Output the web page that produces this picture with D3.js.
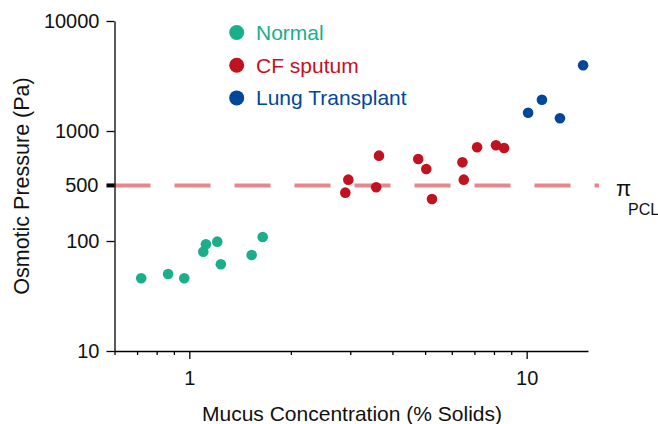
<!DOCTYPE html>
<html>
<head>
<meta charset="utf-8">
<script src="https://cdn.jsdelivr.net/npm/d3@7"></script>
<style>
  html, body { margin: 0; padding: 0; background: #fff; }
  svg { display: block; }
  text { font-family: "Liberation Sans", Arial, Helvetica, sans-serif; }
</style>
</head>
<body>
<svg id="chart" width="658" height="424"></svg>
<script>
// ---- data ----
const seriesNames = ["Normal", "CF sputum", "Lung Transplant"];
const seriesColors = ["#1aae8b", "#c1121f", "#00479b"];

const normalX = [0.72, 0.865, 0.966, 1.10, 1.12, 1.21, 1.24, 1.53, 1.65];
const normalY = [45.8, 50.1, 45.8, 80.0, 93.3, 98.6, 61.4, 74.6, 108.7];

const cfX = [2.90, 2.96, 3.58, 3.65, 4.77, 5.04, 5.24, 6.45, 6.51, 7.13, 8.11, 8.57];
const cfY = [275, 361, 308, 597, 557, 451, 241, 519, 361, 711, 741, 701];

const ltX = [10.1, 11.1, 12.55, 14.7];
const ltY = [1467, 1925, 1305, 3955];

const yTickValues = [10, 100, 1000, 10000];
const yTickLabels = ["10", "100", "1000", "10000"];
const xMajorTicks = [1, 10];
const xMajorLabels = ["1", "10"];
const xMinorTicks = [0.6, 0.7, 0.8, 0.9, 2, 3, 4, 5, 6, 7, 8, 9];

// pi_PCL reference line, drawn where the figure draws it, labelled "500"
const pclLineValue = 320;
const pclLabel = "500";

const xTitle = "Mucus Concentration (% Solids)";
const yTitle = "Osmotic Pressure (Pa)";

// ---- chart ----
const svg = d3.select("#chart");
const x = d3.scaleLog().domain([0.6, 15.2]).range([114.5, 588]);
const y = d3.scaleLog().domain([10, 10000]).range([351, 21]);

// reference dashed line
svg.append("line")
  .attr("x1", x(0.6)).attr("x2", 599)
  .attr("y1", y(pclLineValue)).attr("y2", y(pclLineValue))
  .attr("stroke", "#e5878d")
  .attr("stroke-width", 4)
  .attr("stroke-dasharray", "36 24");

// Y axis
const yAxis = d3.axisLeft(y)
  .tickValues(yTickValues)
  .tickFormat((d, i) => yTickLabels[i])
  .tickSize(8).tickPadding(7).tickSizeOuter(0);
const gy = svg.append("g").attr("transform", `translate(${x(0.6)},0)`).call(yAxis);
gy.select(".domain").attr("stroke", "#000").attr("stroke-width", 1.3);
gy.selectAll(".tick line").attr("stroke", "#000").attr("stroke-width", 1.3);
gy.selectAll("text").attr("font-size", 20).attr("fill", "#111")
  .attr("font-family", "'Liberation Sans', Arial, sans-serif");

// 500 tick (thick)
svg.append("line")
  .attr("x1", x(0.6) - 8).attr("x2", x(0.6))
  .attr("y1", y(pclLineValue)).attr("y2", y(pclLineValue))
  .attr("stroke", "#000").attr("stroke-width", 4);
svg.append("text")
  .attr("x", x(0.6) - 16).attr("y", y(pclLineValue))
  .attr("dy", "0.35em")
  .attr("text-anchor", "end")
  .attr("font-size", 20).attr("fill", "#111")
  .text(pclLabel);

// X axis
const xAxis = d3.axisBottom(x)
  .tickValues(xMajorTicks)
  .tickFormat((d, i) => xMajorLabels[i])
  .tickSize(8).tickPadding(12).tickSizeOuter(0);
const gx = svg.append("g").attr("transform", `translate(0,${y(10)})`).call(xAxis);
gx.select(".domain").attr("stroke", "#000").attr("stroke-width", 1.3);
gx.selectAll(".tick line").attr("stroke", "#000").attr("stroke-width", 1.3);
gx.selectAll("text").attr("font-size", 20).attr("fill", "#111")
  .attr("font-family", "'Liberation Sans', Arial, sans-serif");

const xMinor = d3.axisBottom(x).tickValues(xMinorTicks).tickFormat("").tickSize(4).tickSizeOuter(0);
const gxm = svg.append("g").attr("transform", `translate(0,${y(10)})`).call(xMinor);
gxm.select(".domain").remove();
gxm.selectAll(".tick line").attr("stroke", "#000").attr("stroke-width", 1.3);

// Axis titles
svg.append("text")
  .attr("x", 352).attr("y", 421)
  .attr("text-anchor", "middle")
  .attr("font-size", 21).attr("fill", "#111")
  .text(xTitle);
svg.append("text")
  .attr("transform", `translate(29, ${186}) rotate(-90)`)
  .attr("text-anchor", "middle")
  .attr("font-size", 21.5).attr("fill", "#111")
  .text(yTitle);

// Points
const series = [
  { xs: normalX, ys: normalY, color: seriesColors[0] },
  { xs: cfX, ys: cfY, color: seriesColors[1] },
  { xs: ltX, ys: ltY, color: seriesColors[2] }
];
series.forEach(s => {
  svg.append("g").selectAll("circle")
    .data(s.xs.map((v, i) => [v, s.ys[i]]))
    .join("circle")
    .attr("cx", d => x(d[0]))
    .attr("cy", d => y(d[1]))
    .attr("r", 5.3)
    .attr("fill", s.color);
});

// Legend
const legend = svg.append("g");
seriesNames.forEach((name, i) => {
  const cy = 32.5 + i * 32.7;
  legend.append("circle").attr("cx", 236.7).attr("cy", cy).attr("r", 7.5).attr("fill", seriesColors[i]);
  legend.append("text").attr("x", 256).attr("y", cy + 7.3)
    .attr("font-size", 21).attr("fill", seriesColors[i]).text(name);
});

// pi_PCL label
svg.append("text").attr("x", 616).attr("y", 196)
  .attr("font-family", "'Liberation Serif', 'Times New Roman', serif")
  .attr("font-size", 22).attr("fill", "#111").text("π");
svg.append("text").attr("x", 628).attr("y", 215)
  .attr("font-size", 16).attr("fill", "#111").text("PCL");
</script>
</body>
</html>
